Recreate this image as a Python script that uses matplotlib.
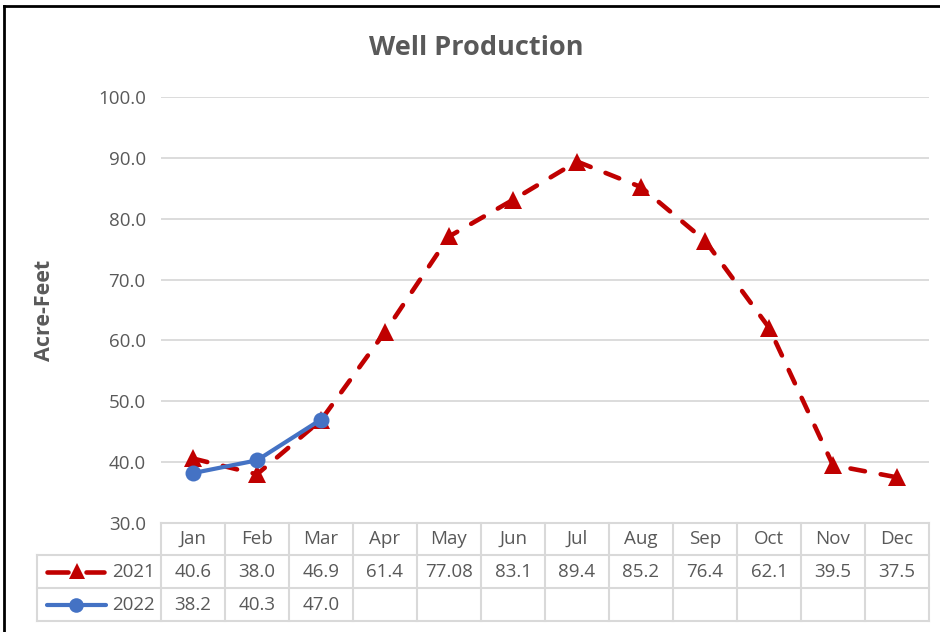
import matplotlib
matplotlib.use('Agg')
import matplotlib.pyplot as plt
from matplotlib.lines import Line2D
import matplotlib.transforms as mtransforms

months = ['Jan', 'Feb', 'Mar', 'Apr', 'May', 'Jun', 'Jul', 'Aug', 'Sep', 'Oct', 'Nov', 'Dec']
vals_2021 = [40.6, 38.0, 46.9, 61.4, 77.08, 83.1, 89.4, 85.2, 76.4, 62.1, 39.5, 37.5]
vals_2022 = [38.2, 40.3, 47.0]
labels_2021 = ['40.6', '38.0', '46.9', '61.4', '77.08', '83.1', '89.4', '85.2', '76.4', '62.1', '39.5', '37.5']
labels_2022 = ['38.2', '40.3', '47.0']
yticks = [30, 40, 50, 60, 70, 80, 90, 100]

RED = '#C00000'
BLUE = '#4472C4'
TXT = '#595959'
GRID = '#D9D9D9'
FS = 13.5
DASH = (0, (3.2, 3.5))

plt.rcParams['font.family'] = ['Open Sans', 'DejaVu Sans']

W, H = 940, 632
fig = plt.figure(figsize=(W / 100, H / 100), dpi=100)

# plot area in pixels
L, R, T, B = 161, 929, 97, 523
ax = fig.add_axes([L / W, 1 - B / H, (R - L) / W, (B - T) / H])

x = list(range(len(months)))
ax.plot(x, vals_2021, color=RED, lw=3.3, ls=DASH, dash_capstyle='round',
        marker='^', ms=12.5, markeredgewidth=0, zorder=3)
ax.plot(x[:len(vals_2022)], vals_2022, color=BLUE, lw=3, solid_capstyle='round',
        marker='o', ms=11.5, markeredgewidth=0, zorder=4)

ax.set_xlim(-0.5, len(months) - 0.5)
ax.set_ylim(30, 100)
ax.set_yticks(yticks)
ax.set_yticklabels(['%.1f' % v for v in yticks], color=TXT, fontsize=FS)
ax.set_xticks([])
ax.tick_params(axis='y', length=0, pad=11)
ax.grid(axis='y', color=GRID, lw=1.3)
ax.set_axisbelow(True)
for s in ['top', 'right', 'left']:
    ax.spines[s].set_visible(False)
ax.spines['bottom'].set_color(GRID)
ax.spines['bottom'].set_linewidth(1.5)

fig.text(476 / W, 1 - 48 / H, 'Well Production', ha='center', va='center',
         fontsize=19.5, fontweight='bold', color=TXT)
fig.text(44 / W, 1 - 310 / H, 'Acre-Feet', ha='center', va='center', rotation=90,
         fontsize=15.5, fontweight='bold', color=TXT)

# data table below the plot
def ay(pix):
    return (B - pix) / (B - T)

bt = mtransforms.blended_transform_factory(ax.transData, ax.transAxes)
colw = (R - L) / len(months)
def dx(pix):
    return -0.5 + (pix - L) / colw

rows_y = [523, 555, 588, 621]
leg_left = dx(37)

for k in range(len(months) + 1):
    ax.add_line(Line2D([k - 0.5, k - 0.5], [ay(523), ay(621)], transform=bt,
                       color=GRID, lw=1.5, clip_on=False))
for yy in rows_y[1:]:
    ax.add_line(Line2D([leg_left, len(months) - 0.5], [ay(yy), ay(yy)], transform=bt,
                       color=GRID, lw=1.5, clip_on=False))
ax.add_line(Line2D([leg_left, leg_left], [ay(555), ay(621)], transform=bt,
                   color=GRID, lw=1.5, clip_on=False))

for i, m in enumerate(months):
    ax.text(i, ay(539), m, transform=bt, ha='center', va='center', color=TXT, fontsize=FS)
for i, s in enumerate(labels_2021):
    ax.text(i, ay(572), s, transform=bt, ha='center', va='center', color=TXT, fontsize=FS)
for i, s in enumerate(labels_2022):
    ax.text(i, ay(605), s, transform=bt, ha='center', va='center', color=TXT, fontsize=FS)

# legend keys in the table
for a, b in [(47, 68), (86, 104)]:
    ax.add_line(Line2D([dx(a), dx(b)], [ay(572), ay(572)], transform=bt, color=RED, lw=3.3,
                       solid_capstyle='round', clip_on=False))
ax.add_line(Line2D([dx(77)], [ay(571)], transform=bt, color=RED, marker='^', ms=11,
                   markeredgewidth=0, clip_on=False))
ax.add_line(Line2D([dx(47), dx(106)], [ay(605), ay(605)], transform=bt, color=BLUE, lw=3,
                   solid_capstyle='round', clip_on=False))
ax.add_line(Line2D([dx(76)], [ay(605)], transform=bt, color=BLUE, marker='o', ms=10.5,
                   markeredgewidth=0, clip_on=False))
ax.text(dx(155), ay(572), '2021', transform=bt, ha='right', va='center', color=TXT, fontsize=FS)
ax.text(dx(155), ay(605), '2022', transform=bt, ha='right', va='center', color=TXT, fontsize=FS)

# screenshot frame on left and top
fig.add_artist(Line2D([4 / W, 4 / W], [0, 1 - 6 / H], transform=fig.transFigure, color='black', lw=2))
fig.add_artist(Line2D([4 / W, 1], [1 - 6 / H, 1 - 6 / H], transform=fig.transFigure, color='black', lw=2))

fig.savefig('out.png', dpi=100)
